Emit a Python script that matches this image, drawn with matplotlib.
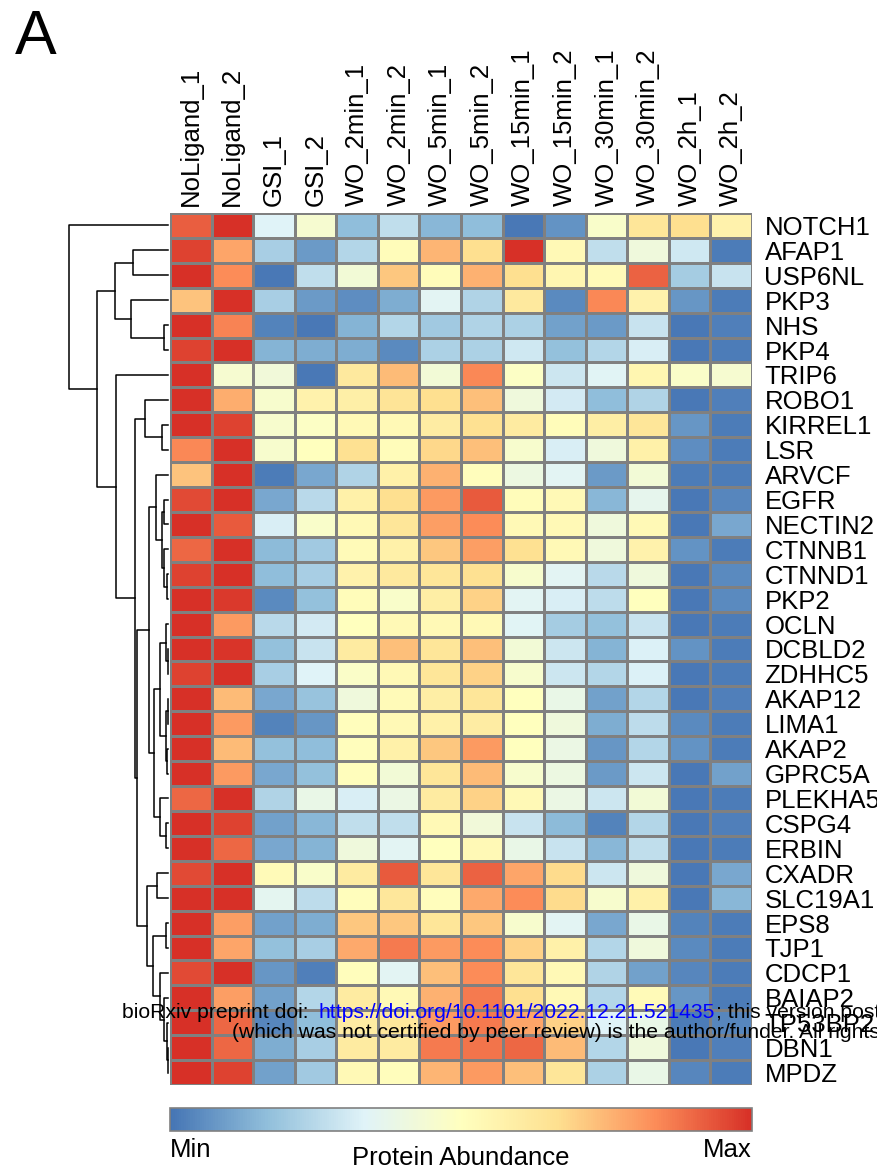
import numpy as np
import matplotlib
matplotlib.use("Agg")
import matplotlib.pyplot as plt
from matplotlib.colors import LinearSegmentedColormap, Normalize
from matplotlib.cm import ScalarMappable

plt.rcParams['font.family'] = ['Liberation Sans', 'DejaVu Sans']

samples = ['NoLigand_1', 'NoLigand_2', 'GSI_1', 'GSI_2', 'WO_2min_1', 'WO_2min_2',
           'WO_5min_1', 'WO_5min_2', 'WO_15min_1', 'WO_15min_2', 'WO_30min_1',
           'WO_30min_2', 'WO_2h_1', 'WO_2h_2']

proteins = ['NOTCH1', 'AFAP1', 'USP6NL', 'PKP3', 'NHS', 'PKP4', 'TRIP6', 'ROBO1',
            'KIRREL1', 'LSR', 'ARVCF', 'EGFR', 'NECTIN2', 'CTNNB1', 'CTNND1', 'PKP2',
            'OCLN', 'DCBLD2', 'ZDHHC5', 'AKAP12', 'LIMA1', 'AKAP2', 'GPRC5A', 'PLEKHA5',
            'CSPG4', 'ERBIN', 'CXADR', 'SLC19A1', 'EPS8', 'TJP1', 'CDCP1', 'BAIAP2',
            'TP53BP2', 'DBN1', 'MPDZ']

# scaled abundance, 0 = min, 6 = max
abundance = [
    [5.5, 6.0, 2.0, 2.7, 1.0, 1.6, 0.9, 1.0, 0.05, 0.4, 2.8, 3.8, 4.0, 3.4],
    [5.8, 4.7, 1.3, 0.5, 1.45, 3.1, 4.5, 4.0, 6.0, 3.2, 1.6, 2.5, 1.8, 0.1],
    [6.0, 5.0, 0.05, 1.6, 2.6, 4.3, 3.1, 4.55, 4.0, 3.3, 3.15, 5.45, 1.25, 1.7],
    [4.35, 6.0, 1.3, 0.5, 0.35, 0.75, 2.1, 1.4, 3.7, 0.3, 5.05, 3.4, 0.45, 0.1],
    [6.0, 5.1, 0.2, 0.05, 0.85, 1.45, 1.2, 1.4, 1.35, 0.6, 0.5, 1.7, 0.05, 0.15],
    [5.8, 6.0, 0.85, 0.75, 0.75, 0.3, 1.35, 1.35, 1.8, 1.05, 1.45, 1.9, 0.05, 0.1],
    [6.0, 2.7, 2.55, 0.05, 3.7, 4.45, 2.6, 5.05, 2.9, 1.75, 2.05, 3.3, 2.85, 2.7],
    [6.0, 4.6, 2.75, 3.4, 3.5, 3.85, 4.0, 4.4, 2.5, 1.85, 1.0, 1.4, 0.05, 0.15],
    [6.0, 5.8, 2.75, 2.9, 3.2, 3.2, 3.6, 3.95, 3.65, 3.1, 3.55, 3.8, 0.45, 0.1],
    [5.05, 6.0, 2.75, 3.0, 3.95, 3.1, 4.1, 4.4, 2.75, 1.9, 2.5, 3.45, 0.35, 0.1],
    [4.35, 6.0, 0.1, 0.7, 1.4, 3.45, 4.55, 3.05, 2.4, 2.1, 0.5, 2.6, 0.1, 0.1],
    [5.7, 6.0, 0.7, 1.5, 3.45, 4.0, 4.85, 5.55, 3.1, 3.2, 0.9, 2.2, 0.05, 0.25],
    [6.0, 5.55, 1.9, 2.8, 3.2, 3.8, 4.8, 5.0, 3.2, 3.2, 2.5, 3.2, 0.05, 0.7],
    [5.4, 6.0, 0.95, 1.2, 3.15, 3.45, 4.3, 4.8, 3.95, 3.2, 2.5, 3.4, 0.4, 0.1],
    [5.8, 6.0, 1.0, 1.3, 3.4, 3.7, 3.8, 3.95, 2.75, 2.1, 1.5, 2.5, 0.05, 0.3],
    [6.0, 5.9, 0.3, 1.05, 3.1, 2.8, 3.55, 4.15, 2.1, 1.9, 1.55, 3.0, 0.05, 0.3],
    [6.0, 4.85, 1.5, 1.85, 3.0, 3.2, 3.2, 3.2, 2.05, 1.25, 1.05, 1.7, 0.05, 0.1],
    [6.0, 5.95, 1.05, 1.7, 3.65, 4.4, 3.8, 4.4, 2.6, 1.75, 0.85, 1.95, 0.4, 0.1],
    [5.8, 6.0, 1.3, 2.0, 2.85, 3.2, 3.8, 4.15, 2.75, 1.75, 1.45, 1.95, 0.05, 0.1],
    [6.0, 4.45, 0.7, 1.1, 2.5, 3.15, 3.55, 3.8, 3.0, 2.3, 0.6, 1.45, 0.05, 0.15],
    [6.0, 4.85, 0.2, 0.45, 3.05, 3.2, 3.45, 3.6, 3.0, 2.5, 0.75, 1.55, 0.3, 0.1],
    [6.0, 4.45, 1.05, 1.0, 3.05, 3.45, 4.3, 4.85, 3.0, 2.35, 0.45, 1.45, 0.4, 0.1],
    [6.0, 4.85, 0.7, 1.05, 3.05, 2.6, 3.8, 4.45, 2.75, 2.4, 0.5, 1.75, 0.05, 0.6],
    [5.4, 6.0, 1.4, 2.3, 1.9, 2.35, 3.65, 4.15, 3.2, 2.35, 1.75, 2.6, 0.05, 0.1],
    [6.0, 5.8, 0.6, 0.9, 1.6, 1.6, 3.2, 2.55, 1.7, 0.95, 0.2, 1.45, 0.05, 0.15],
    [6.0, 5.4, 0.7, 0.85, 2.5, 2.1, 3.0, 3.2, 2.3, 1.7, 0.9, 1.6, 0.05, 0.1],
    [5.7, 6.0, 3.15, 2.8, 3.65, 5.55, 3.8, 5.45, 4.7, 4.05, 1.75, 2.5, 0.05, 0.7],
    [6.0, 6.0, 2.15, 1.55, 3.05, 3.75, 3.05, 4.65, 5.0, 4.05, 2.75, 3.45, 0.05, 0.9],
    [6.0, 4.8, 0.6, 0.75, 4.3, 4.3, 3.8, 4.3, 2.75, 2.1, 0.7, 2.3, 0.2, 0.1],
    [6.0, 4.7, 1.05, 1.3, 4.65, 5.2, 4.85, 5.0, 4.15, 3.45, 1.45, 2.5, 0.3, 0.1],
    [5.7, 6.0, 0.45, 0.15, 3.05, 2.1, 4.4, 5.0, 3.8, 3.2, 1.4, 0.6, 0.25, 0.1],
    [6.0, 4.8, 0.6, 1.45, 3.65, 3.2, 4.55, 5.2, 4.0, 3.2, 1.45, 3.15, 0.45, 0.1],
    [6.0, 5.4, 0.25, 1.0, 3.6, 3.75, 4.85, 5.2, 4.7, 4.15, 2.0, 2.3, 0.1, 0.25],
    [6.0, 5.4, 0.75, 1.3, 3.65, 3.65, 5.2, 5.25, 5.4, 4.45, 1.45, 2.5, 0.05, 0.15],
    [6.0, 5.8, 0.6, 1.2, 3.2, 3.05, 4.5, 4.85, 4.4, 3.8, 1.35, 2.3, 0.25, 0.1],
]

# row clustering tree: (left, right, merge height), root height = 1
robo = ('ROBO1', ('KIRREL1', 'LSR', 0.06), 0.232)
arvcf = ('ARVCF', (('EGFR', 'NECTIN2', 0.04),
                   ('CTNNB1', ('CTNND1', 'PKP2', 0.01), 0.04), 0.06), 0.12)
ocln = ((('OCLN', ('DCBLD2', 'ZDHHC5', 0.005), 0.02),
         (('AKAP12', 'LIMA1', 0.005), ('AKAP2', 'GPRC5A', 0.015), 0.025), 0.08),
        ('PLEKHA5', ('CSPG4', 'ERBIN', 0.02), 0.08), 0.14)
cxadr = (('CXADR', 'SLC19A1', 0.11),
         (('EPS8', 'TJP1', 0.02),
          ('CDCP1', ('BAIAP2', ('TP53BP2', ('DBN1', 'MPDZ', 0.005), 0.012), 0.04), 0.08),
          0.15), 0.21)
lower = ('TRIP6', (robo, ((arvcf, ocln, 0.19), cxadr, 0.31), 0.333), 0.525)
upper = (('AFAP1', 'USP6NL', 0.354), ('PKP3', ('NHS', 'PKP4', 0.04), 0.374), 0.54)
tree = ('NOTCH1', (upper, lower, 0.72), 1.0)

colors = ['#4575B4', '#91BFDB', '#E0F3F8', '#FFFFBF', '#FEE090', '#FC8D59', '#D73027']
cmap = LinearSegmentedColormap.from_list('rdylbu', colors, N=256)
norm = Normalize(0, 6)

W, H = 877, 1176
fig = plt.figure(figsize=(W / 100, H / 100), dpi=100)

def box(x0, y0, x1, y1):
    return [x0 / W, 1 - y1 / H, (x1 - x0) / W, (y1 - y0) / H]

data = np.array(abundance)
nr, nc = data.shape

ax = fig.add_axes(box(170, 213, 752, 1085))
ax.pcolormesh(np.arange(nc + 1), np.arange(nr + 1), data, cmap=cmap, norm=norm,
              edgecolors='#808080', linewidth=1.0)
ax.set_xlim(0, nc)
ax.set_ylim(nr, 0)
ax.xaxis.tick_top()
ax.set_xticks(np.arange(nc) + 0.5)
ax.set_xticklabels(samples, rotation=90, fontsize=18.5, va='bottom', ha='center')
ax.yaxis.tick_right()
ax.set_yticks(np.arange(nr) + 0.5)
ax.set_yticklabels(proteins, fontsize=18.5)
ax.tick_params(axis='both', length=0)
ax.tick_params(axis='x', pad=5)
ax.tick_params(axis='y', pad=9)
for s in ax.spines.values():
    s.set_visible(False)

dax = fig.add_axes(box(69, 213, 168, 1085))
dax.set_xlim(1.0, 0.0)
dax.set_ylim(nr, 0)
dax.axis('off')

def draw(t):
    if isinstance(t, str):
        return proteins.index(t) + 0.5, 0.0
    a, b, h = t
    ya, ha = draw(a)
    yb, hb = draw(b)
    dax.plot([ha, h, h, hb], [ya, ya, yb, yb], color='black', lw=1.1, clip_on=False)
    return (ya + yb) / 2, h

draw(tree)

cax = fig.add_axes(box(170, 1108, 752, 1131))
cb = fig.colorbar(ScalarMappable(norm=norm, cmap=cmap), cax=cax, orientation='horizontal')
cb.set_ticks([])
cb.outline.set_edgecolor('#808080')
cb.outline.set_linewidth(1.2)
fig.text(170 / W, 1 - 1150 / H, 'Min', fontsize=18.5, ha='left', va='center')
fig.text(752 / W, 1 - 1150 / H, 'Max', fontsize=18.5, ha='right', va='center')
fig.text(461 / W, 1 - 1158 / H, 'Protein Abundance', fontsize=18.5, ha='center', va='center')

fig.text(15 / W, 1 - 38 / H, 'A', fontsize=45, ha='left', va='center')

# preprint watermark
fig.text(122 / W, 1 - 1012 / H, 'bioRxiv preprint doi: ', fontsize=15.2, va='center')
fig.text(318 / W, 1 - 1012 / H, 'https://doi.org/10.1101/2022.12.21.521435', fontsize=15.2,
         va='center', color='#0000ff')
fig.text(716 / W, 1 - 1012 / H, '; this version posted December 21, 2022.', fontsize=15.2,
         va='center')
fig.text(232 / W, 1 - 1033 / H,
         '(which was not certified by peer review) is the author/funder. All rights reserved.',
         fontsize=15.2, va='center')

fig.savefig('out.png', dpi=100)
